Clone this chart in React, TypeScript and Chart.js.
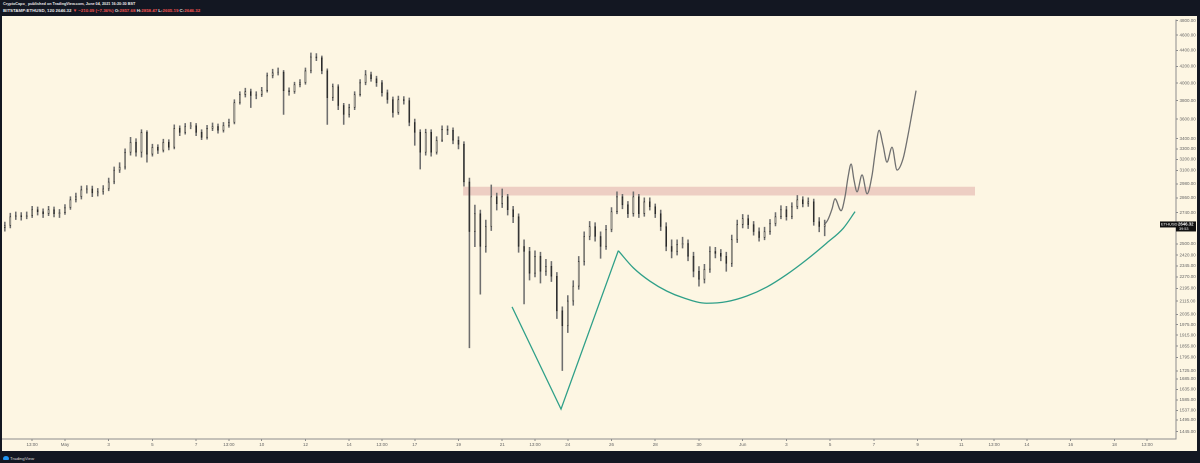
import React, { useEffect, useRef } from "react";
import { Chart, registerables } from "chart.js";

Chart.register(...registerables);

// Time axis in days counted from 1 May 2021 00:00 (BST). Candles are read at 6-hour steps.
const FIRST_CANDLE_DAY = -2.75;
const CANDLE_STEP_DAYS = 0.25;

const OPEN = [2622,2638,2707,2715,2707,2715,2763,2747,2731,2763,
2731,2739,2779,2844,2869,2928,2935,2902,2911,2936,
2996,3102,3129,3268,3365,3268,3463,3250,3316,3287,
3365,3316,3504,3463,3524,3530,3463,3413,3504,3524,
3484,3534,3565,3778,3867,3901,3856,3867,3912,4086,
4121,4130,3912,3900,3981,4004,4145,4317,4305,4145,
3833,3958,3746,3649,3724,3867,4004,4098,4050,4004,
3889,3811,3670,3811,3800,3565,3463,3268,3463,3268,
3384,3494,3484,3384,3345,2996,2592,2731,2482,2630,
2869,2811,2869,2763,2707,2482,2446,2295,2411,2308,
2342,2275,2056,1968,2116,2210,2376,2555,2630,2555,
2482,2607,2747,2869,2803,2731,2869,2731,2827,2787,
2731,2630,2482,2446,2496,2503,2411,2308,2255,2322,
2446,2432,2411,2362,2532,2645,2692,2645,2592,2547,
2592,2653,2707,2763,2707,2787,2844,2811,2827,2668,
2630];

const HIGH = [2665,2735,2745,2740,2745,2790,2785,2770,2790,2785,
2765,2805,2870,2900,2960,2965,2960,2940,2965,3030,
3130,3170,3300,3413,3400,3490,3480,3345,3340,3395,
3390,3540,3530,3555,3565,3555,3490,3535,3560,3550,
3565,3600,3810,3900,3940,3930,3900,3950,4120,4165,
4180,4150,3945,4010,4040,4180,4367,4360,4330,4170,
3990,3980,3770,3760,3900,4040,4150,4130,4080,4030,
3920,3840,3850,3845,3830,3600,3490,3495,3490,3420,
3530,3530,3510,3420,3370,3030,2800,2760,2680,2970,
2900,2935,2890,2790,2730,2530,2475,2450,2440,2390,
2375,2300,2080,2150,2245,2410,2590,2670,2660,2590,
2640,2780,2911,2890,2830,2911,2890,2860,2860,2810,
2760,2660,2530,2530,2550,2530,2440,2340,2355,2480,
2475,2460,2440,2565,2680,2725,2720,2670,2620,2625,
2685,2740,2795,2790,2820,2880,2870,2860,2850,2700,
2680];

const LOW = [2595,2620,2685,2680,2690,2700,2720,2700,2715,2705,
2700,2725,2765,2825,2850,2900,2870,2875,2890,2920,
2980,3080,3110,3240,3230,3221,3175,3230,3255,3270,
3290,3300,3430,3445,3500,3430,3390,3395,3480,3455,
3465,3515,3550,3760,3840,3724,3820,3845,3895,4060,
4095,3649,3860,3880,3955,3985,4120,4270,4110,3545,
3800,3700,3545,3620,3700,3850,3980,4020,3960,3850,
3770,3620,3650,3760,3530,3335,3111,3240,3230,3250,
3370,3440,3350,3300,2960,1846,2480,2159,2440,2600,
2760,2780,2720,2660,2440,2098,2250,2270,2230,2280,
2240,2010,1727,1930,2090,2190,2350,2530,2520,2397,
2460,2590,2730,2770,2700,2710,2700,2710,2760,2700,
2600,2450,2400,2420,2470,2380,2270,2210,2230,2300,
2400,2380,2308,2340,2510,2620,2615,2565,2520,2530,
2570,2635,2690,2680,2690,2770,2785,2790,2640,2590,
2560];

const CLOSE = [2638,2707,2715,2707,2715,2763,2747,2731,2763,2731,
2739,2779,2844,2869,2928,2935,2902,2911,2936,2996,
3102,3129,3268,3365,3268,3463,3250,3316,3287,3365,
3316,3504,3463,3524,3530,3463,3413,3504,3524,3484,
3534,3565,3778,3867,3901,3856,3867,3912,4086,4121,
4130,3912,3900,3981,4004,4145,4317,4305,4145,3833,
3958,3746,3649,3724,3867,4004,4098,4050,4004,3889,
3811,3670,3811,3800,3565,3463,3268,3463,3268,3384,
3494,3484,3384,3345,2996,2592,2731,2482,2630,2869,
2811,2869,2763,2707,2482,2446,2295,2411,2308,2342,
2275,2056,1968,2116,2210,2376,2555,2630,2555,2482,
2607,2747,2869,2803,2731,2869,2731,2827,2787,2731,
2630,2482,2446,2496,2503,2411,2308,2255,2322,2446,
2432,2411,2362,2532,2645,2692,2645,2592,2547,2592,
2653,2707,2763,2707,2787,2844,2811,2827,2668,2630,
2646];

const LAST_PRICE = 2646.32;

const Y_TICKS = [4800,4600,4400,4200,4000,3800,3600,3400,3300,3200,3100,2980,2860,2740,
2500,2420,2345,2270,2195,2115,2035,1975,1915,1855,1795,1725,1685,1635,1585,1537,1495,1445];

const X_TICK_DAYS = [-1.5,0,2,4,6,7.5,9,11,13,14.5,16,18,20,21.5,23,25,27,29,31,33,35,37,39,41,42.5,44,46,48,49.5];
const X_TICK_LABELS = ["13:00","May","3","5","7","13:00","10","12","14","13:00","17","19","21","13:00","24",
"26","28","30","Jun","3","5","7","9","11","13:00","14","16","18","13:00"];

// resistance zone
const ZONE_DAYS = [18.21, 41.63];
const ZONE_TOP = 2955;
const ZONE_BOTTOM = 2880;

// green drawing: V then rounded bottom
const V_DAYS = [20.45, 22.69, 25.31];
const V_PRICES = [2080, 1543, 2451];
const CUP_DAYS = [25.31,26.0,26.76,27.53,28.28,29.35,30.27,31.19,32.10,33.01,33.93,34.84,35.60,36.14];
const CUP_PRICES = [2451,2331,2242,2178,2136,2102,2112,2147,2204,2286,2388,2506,2617,2747];

// grey projected path
const PROJ_DAYS = [34.75,34.90,35.09,35.22,35.50,35.68,35.82,35.96,36.09,36.23,36.46,36.69,36.92,37.05,37.24,37.42,37.60,37.83,38.06,38.33,38.56,38.75,38.93];
const PROJ_PRICES = [2646,2684,2771,2852,2755,2869,3040,3157,3014,2911,3058,2894,3058,3250,3484,3335,3175,3316,3102,3203,3433,3670,3912];

const X_MIN = -2.88;
const X_MAX = 50.82;
const Y_MIN = 1414;
const Y_MAX = 4806;

const CREAM = "#fdf6e3";
const DARK = "#131722";
const FONT = "'Liberation Sans', Arial, sans-serif";

const lastPricePlugin = {
  id: "lastPrice",
  afterDraw(chart: any) {
    const ctx = chart.ctx;
    const y = chart.scales.y;
    const area = chart.chartArea;
    const py = y.getPixelForValue(LAST_PRICE);
    ctx.save();
    ctx.fillStyle = "#111";
    ctx.fillRect(area.right - 16, py - 3, 16, 6);
    ctx.fillRect(area.right, py - 3, 20, 10);
    ctx.fillStyle = "#fff";
    ctx.font = `4px ${FONT}`;
    ctx.textBaseline = "middle";
    ctx.textAlign = "left";
    ctx.fillText("ETHUSD", area.right - 15, py);
    ctx.font = `bold 4.3px ${FONT}`;
    ctx.fillText(LAST_PRICE.toFixed(2), area.right + 2, py);
    ctx.font = `3.8px ${FONT}`;
    ctx.fillText("39:53", area.right + 3, py + 4.5);
    ctx.restore();
  },
};

export default function App() {
  const ref = useRef<HTMLCanvasElement | null>(null);

  useEffect(() => {
    if (!ref.current) return;
    const days = CLOSE.map((_, i) => FIRST_CANDLE_DAY + i * CANDLE_STEP_DAYS);
    const up = CLOSE.map((c, i) => c >= OPEN[i]);

    const chart = new Chart(ref.current, {
      type: "bar",
      data: {
        datasets: [
          {
            type: "line",
            label: "zone",
            data: ZONE_DAYS.map((d) => ({ x: d, y: ZONE_TOP })),
            borderWidth: 0,
            pointRadius: 0,
            backgroundColor: "rgba(215,150,150,0.42)",
            fill: { value: ZONE_BOTTOM },
            order: 6,
          } as any,
          {
            type: "bar",
            label: "wicks",
            data: days.map((d, i) => ({ x: d, y: [LOW[i], HIGH[i]] })),
            backgroundColor: "#6e6e6e",
            borderWidth: 0,
            grouped: false,
            barThickness: 1,
            maxBarThickness: 0.9,
            order: 5,
          } as any,
          {
            type: "bar",
            label: "bodies",
            data: days.map((d, i) => ({ x: d, y: [OPEN[i], CLOSE[i]] })),
            backgroundColor: up.map((u) => (u ? "#cfcabb" : "#2a2a2a")),
            borderColor: "#2a2a2a",
            borderWidth: 0.7,
            borderSkipped: false,
            grouped: false,
            barThickness: 1,
            maxBarThickness: 3.8,
            order: 4,
          } as any,
          {
            type: "line",
            label: "v",
            data: V_DAYS.map((d, i) => ({ x: d, y: V_PRICES[i] })),
            borderColor: "#2e9f88",
            borderWidth: 1.3,
            pointRadius: 0,
            tension: 0,
            fill: false,
            order: 2,
          } as any,
          {
            type: "line",
            label: "cup",
            data: CUP_DAYS.map((d, i) => ({ x: d, y: CUP_PRICES[i] })),
            borderColor: "#2e9f88",
            borderWidth: 1.3,
            pointRadius: 0,
            cubicInterpolationMode: "monotone",
            fill: false,
            order: 2,
          } as any,
          {
            type: "line",
            label: "projection",
            data: PROJ_DAYS.map((d, i) => ({ x: d, y: PROJ_PRICES[i] })),
            borderColor: "#707070",
            borderWidth: 1.3,
            pointRadius: 0,
            cubicInterpolationMode: "monotone",
            fill: false,
            order: 1,
          } as any,
        ],
      },
      options: {
        animation: false,
        responsive: false,
        devicePixelRatio: 2,
        layout: { padding: { top: 1, left: 0, right: 0, bottom: 0 } },
        plugins: {
          legend: { display: false },
          tooltip: { enabled: false },
        },
        scales: {
          x: {
            type: "linear",
            min: X_MIN,
            max: X_MAX,
            offset: false,
            bounds: "data",
            grid: { drawOnChartArea: false, drawTicks: true, tickLength: 2, color: "#8d8d8d", offset: false },
            border: { display: true, color: "#8d8d8d", width: 1 },
            ticks: {
              autoSkip: false,
              maxRotation: 0,
              padding: 1,
              color: "#666",
              font: { family: FONT, size: 4.5 },
              callback: (_v: any, i: number) => X_TICK_LABELS[i],
            },
            afterBuildTicks: (s: any) => {
              s.ticks = X_TICK_DAYS.map((v) => ({ value: v }));
            },
            afterFit: (s: any) => {
              s.height = 12;
            },
          } as any,
          y: {
            type: "logarithmic",
            position: "right",
            min: Y_MIN,
            max: Y_MAX,
            bounds: "data",
            grid: { drawOnChartArea: false, drawTicks: true, tickLength: 2, color: "#8d8d8d" },
            border: { display: true, color: "#8d8d8d", width: 1 },
            ticks: {
              autoSkip: false,
              padding: 1.5,
              color: "#666",
              font: { family: FONT, size: 4.5 },
              callback: (v: any) => Number(v).toFixed(2),
            },
            afterBuildTicks: (s: any) => {
              s.ticks = Y_TICKS.map((v) => ({ value: v }));
            },
            afterFit: (s: any) => {
              s.width = 21;
            },
          } as any,
        },
      },
      plugins: [lastPricePlugin],
    });
    return () => chart.destroy();
  }, []);

  const red = "#ef5350";
  const txt: React.CSSProperties = {
    position: "absolute",
    left: 3,
    fontFamily: FONT,
    fontSize: "4.4px",
    lineHeight: "5px",
    color: "#e8e8e8",
    whiteSpace: "nowrap",
    fontWeight: 600,
  };

  return (
    <div style={{ position: "relative", width: 1200, height: 463, background: DARK, overflow: "hidden" }}>
      <style>{`body{margin:0;background:${DARK};}`}</style>
      <div style={{ ...txt, top: 2, fontSize: "3.8px" }}>CryptoCapo_ published on TradingView.com, June 04, 2021 16:20:30 BST</div>
      <div style={{ ...txt, top: 7.5 }}>
        BITSTAMP:ETHUSD, 120 2646.32 <span style={{ color: red }}>▼ −210.09 (−7.36%)</span> O:
        <span style={{ color: red }}>2857.68</span> H:<span style={{ color: red }}>2858.47</span> L:
        <span style={{ color: red }}>2605.19</span> C:<span style={{ color: red }}>2646.32</span>
      </div>
      <div style={{ position: "absolute", left: 2, top: 16, width: 1195, height: 435, background: CREAM }}>
        <canvas ref={ref} width={1195} height={435} style={{ width: 1195, height: 435, display: "block" }} />
      </div>
      <div style={{ position: "absolute", left: 3, top: 456, width: 6, height: 4, background: "#2196f3", borderRadius: "3px 3px 1px 1px" }} />
      <div style={{ ...txt, left: 10, top: 455.5, fontWeight: 400, color: "#dcdcdc" }}>TradingView</div>
    </div>
  );
}
